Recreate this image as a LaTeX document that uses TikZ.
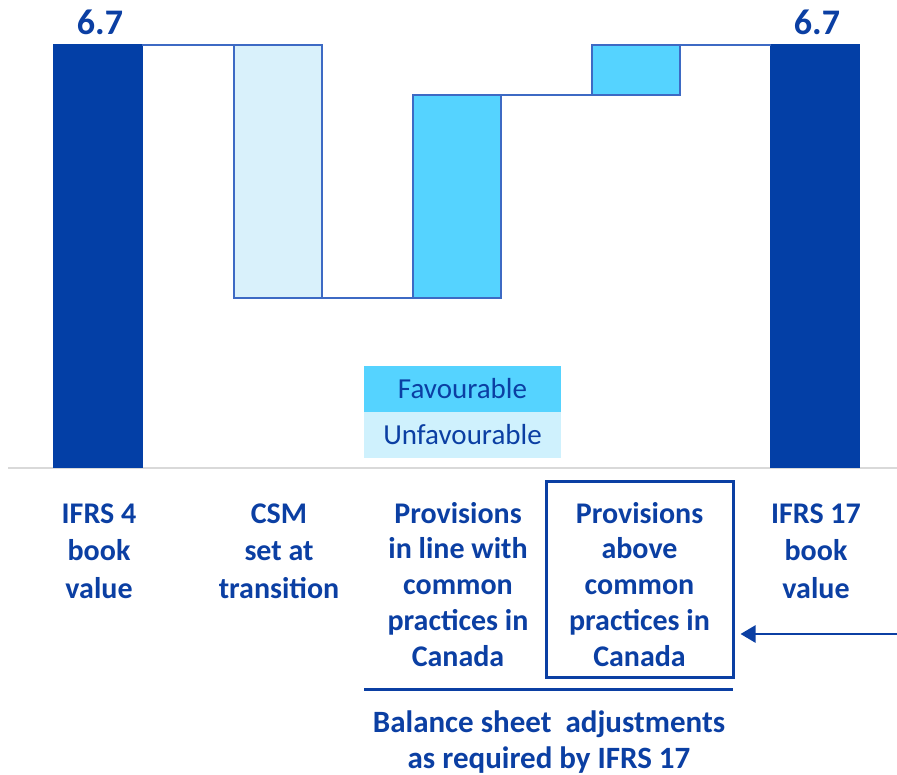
\documentclass[tikz,border=0pt]{standalone}
\usepackage{fontspec}
\setmainfont{Carlito}
\usetikzlibrary{arrows.meta,calc}
\definecolor{darkbar}{HTML}{033FA6}
\definecolor{txtblue}{HTML}{0B3FA3}
\definecolor{edgeblue}{HTML}{3D6AC4}
\definecolor{lightfill}{HTML}{D9F1FB}
\definecolor{favfill}{HTML}{55D3FF}
\definecolor{unfavfill}{HTML}{CFF1FD}
\definecolor{axisgray}{HTML}{D9D9D9}
\begin{document}
\begin{tikzpicture}[x=1pt,y=-1pt,
  bar/.style={draw=edgeblue,line width=1.2pt,anchor=north west,inner sep=0pt,outer sep=0pt,minimum width=88},
  conn/.style={draw=edgeblue,line width=1.2pt},
  lab/.style={font=\fontsize{30}{37.5}\selectfont\bfseries,text=txtblue,align=center,inner sep=0pt,anchor=base},
  labb/.style={font=\fontsize{30}{35.7}\selectfont\bfseries,text=txtblue,align=center,inner sep=0pt,anchor=base},
  val/.style={font=\fontsize{36}{40}\selectfont\bfseries,text=txtblue,inner sep=0pt,anchor=base},
  leg/.style={font=\fontsize{29}{34}\selectfont,text=txtblue,inner sep=0pt,minimum width=197,minimum height=46}]
\useasboundingbox (0,0) rectangle (897,775);
% axis
\draw[axisgray,line width=2pt] (8,468) -- (897,468);
% bars
\node[bar,fill=darkbar,draw=darkbar,minimum height=422] (b1) at (54,45) {};
\node[bar,fill=lightfill,minimum height=253] (b2) at (234,45) {};
\node[bar,fill=favfill,minimum height=203] (b3) at (413,95) {};
\node[bar,fill=favfill,minimum height=50] (b4) at (592,45) {};
\node[bar,fill=darkbar,draw=darkbar,minimum height=422] (b5) at (771,45) {};
% connectors
\draw[conn] (b1.north east) -- (b1.north east -| b2.west);
\draw[conn] (b2.south east) -- (b2.south east -| b3.west);
\draw[conn] (b3.north east) -- (b3.north east -| b4.west);
\draw[conn] (b4.north east) -- (b4.north east -| b5.west);
% values
\node[val] (v1) at (100,35) {6.7};
\node[val] (v5) at (817,35) {6.7};
% legend
\node[leg,fill=favfill] (fav) at (462.5,389) {Favourable};
\node[leg,fill=unfavfill] (unfav) at (462.5,435) {Unfavourable};
% category labels (anchored at the baseline of the last line)
\node[lab] (l1) at (99,598) {IFRS 4\\book\\value};
\node[lab] (l2) at (279,598) {CSM\\set at\\transition};
\node[labb] (l3) at (458,666) {Provisions\\in line with\\common\\practices in\\Canada};
\node[draw=txtblue,line width=3pt,minimum width=187,minimum height=196,inner sep=0pt] (frame) at (639.5,579) {};
\node[labb] (l4) at (639.5,666) {Provisions\\above\\common\\practices in\\Canada};
\node[lab] (l5) at (816,598) {IFRS 17\\book\\value};
% grouping line and text
\coordinate (g1) at (364,689);
\coordinate (g2) at (733,689);
\draw[txtblue,line width=3pt] (g1) -- (g2);
\node[lab,font=\fontsize{31}{35.5}\selectfont\bfseries] (grp) at (549,768) {Balance sheet\ \ adjustments\\as required by IFRS 17};
% arrow
\coordinate (arr) at (897,634);
\draw[txtblue,line width=2.5pt,-{Triangle[length=15pt,width=17pt]},shorten >=6pt] (arr) -- (frame.east |- arr);
\end{tikzpicture}
\end{document}
